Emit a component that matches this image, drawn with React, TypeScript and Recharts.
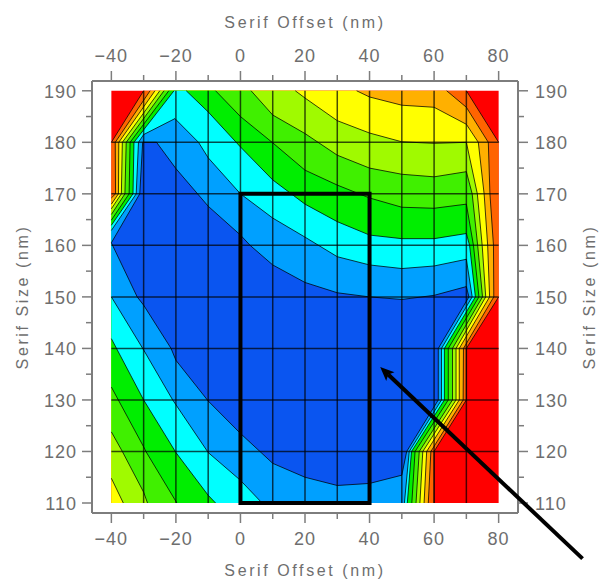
import React from "react";
import {
  ComposedChart,
  Line,
  ReferenceArea,
  ReferenceLine,
  XAxis,
  YAxis,
} from "recharts";

type Pt = [number, number];

const X_TICKS = [-40, -30, -20, -10, 0, 10, 20, 30, 40, 50, 60, 70, 80];
const Y_TICKS = [110, 115, 120, 125, 130, 135, 140, 145, 150, 155, 160, 165, 170, 175, 180, 185, 190];
const X_GRID = [-30, -20, -10, 0, 10, 20, 30, 40, 50, 60, 70];
const Y_GRID = [120, 130, 140, 150, 160, 170, 180];
const X_LABEL = "Serif Offset (nm)";
const Y_LABEL = "Serif Size (nm)";

// each region is "everything below this contour level", painted from high to low
const region10: Pt[] = [[-40, 110], [-40, 190], [80, 190], [80, 110]];
const region9: Pt[] = [[-40, 110], [-40, 180], [-30, 190], [70, 190], [80, 180], [80, 150], [70, 140], [70, 130], [60, 120], [60, 110]];
const region8: Pt[] = [[-40, 110], [-40, 169.2], [-38.7, 170], [-38.8, 180], [-28, 190], [63.9, 190], [70, 186.8], [76.8, 180], [77.3, 170], [78.4, 160], [78.5, 150], [69.1, 140], [69, 130], [59, 120], [58.2, 110]];
const region7: Pt[] = [[-40, 110], [-40, 168], [-37.8, 170], [-37.7, 180], [-26.5, 190], [36, 190], [40, 188.8], [50, 187.2], [60, 186.8], [70, 183.5], [73.7, 180], [75.5, 170], [76.6, 160], [77.2, 150], [67.8, 140], [67.8, 130], [57.7, 120], [56.9, 110]];
const region6: Pt[] = [[-36.3, 110], [-40, 114.8], [-40, 167.1], [-36.9, 170], [-36.6, 180], [-25, 190], [17, 190], [20, 188.6], [30, 184.2], [40, 181.8], [50, 180.1], [60, 179.8], [70, 180], [73.4, 170], [74.9, 160], [76, 150], [66.8, 140], [66.8, 130], [56.5, 120], [55.6, 110]];
const region5: Pt[] = [[-28.8, 110], [-30, 112.1], [-36.6, 120], [-40, 123.8], [-40, 166], [-35.8, 170], [-35.4, 180], [-23.7, 190], [3.3, 190], [10, 185.3], [20, 181.7], [30, 177.5], [40, 175], [50, 173.8], [60, 173.3], [70, 174.3], [71.8, 170], [73.5, 160], [75, 150], [65.7, 140], [65.7, 130], [55.4, 120], [54.4, 110]];
const region4: Pt[] = [[-19.7, 110], [-29.3, 120], [-30, 120.9], [-40, 132.5], [-40, 164.9], [-34.5, 170], [-34.2, 180], [-22.2, 190], [-7.7, 190], [0, 185], [10, 179.9], [20, 174.6], [30, 171.7], [40, 169.2], [50, 167.4], [60, 167.2], [70, 168], [72.2, 160], [73.9, 150], [64.4, 140], [64.4, 130], [54.1, 120], [53.1, 110]];
const region3: Pt[] = [[-7.7, 110], [-10, 111.5], [-20, 119.8], [-30, 130], [-40, 141.9], [-40, 163.9], [-33.3, 170], [-33, 180], [-20.6, 190], [-16.8, 190], [-10, 185.9], [0, 179.1], [10, 172.7], [20, 168], [30, 164.6], [40, 162], [50, 161.3], [60, 161.3], [70, 162.3], [71, 160], [72.8, 150], [63.2, 140], [63.2, 130], [53, 120], [51.7, 110]];
const region2: Pt[] = [[6.7, 110], [0, 114.4], [-10, 119.8], [-21, 130], [-30, 139.7], [-40, 150], [-40, 162.9], [-32.3, 170], [-31.6, 180], [-30, 181.5], [-20.3, 184.6], [-13, 180], [-10, 177], [0, 170], [10, 165.3], [20, 161.6], [30, 157.8], [40, 156.2], [50, 155.5], [60, 156], [70, 157.3], [71.8, 150], [62.3, 140], [62.3, 130], [52.3, 120], [50.8, 110]];
const region1: Pt[] = [[-26, 180], [-20, 174.9], [-10, 167.6], [0, 162], [3, 160], [10, 156.2], [20, 152.8], [30, 150.8], [40, 150], [50, 149.5], [60, 150.3], [70, 152], [70.8, 150], [61.3, 140], [61.3, 130], [51.5, 120], [50, 115.4], [40, 113.8], [30, 113.4], [20, 115], [10, 117.7], [0, 123.5], [-10, 129.8], [-20, 137.7], [-21.5, 140], [-30, 148.4], [-32, 150], [-40, 160.5], [-31.2, 170], [-30.3, 180]];

const REGIONS: { pts: Pt[]; color: string }[] = [
  { pts: region10, color: "#ff0000" },
  { pts: region9, color: "#ff6400" },
  { pts: region8, color: "#ffb000" },
  { pts: region7, color: "#ffff00" },
  { pts: region6, color: "#a0fa00" },
  { pts: region5, color: "#40f000" },
  { pts: region4, color: "#00ee00" },
  { pts: region3, color: "#00ffff" },
  { pts: region2, color: "#00a0ff" },
  { pts: region1, color: "#0a55f0" },
];

const box = { x1: 0, x2: 40, y1: 110, y2: 170 };
const arrow = { tail: [106, 99.2], tip: [43.3, 136.4] };

const GREY = "#7d7d7d";
const TEXT = "#6e6e6e";
const FONT = "'Liberation Sans', Arial, sans-serif";
const ON_TOP = 3000;

const onEdge = (a: any, b: any) =>
  (a.x === b.x && (a.x === X_TICKS[0] || a.x === X_TICKS[X_TICKS.length - 1])) ||
  (a.y === b.y && (a.y === Y_TICKS[0] || a.y === Y_TICKS[Y_TICKS.length - 1]));

// Line hands every dot the whole point list, so the first dot draws the filled region
function regionDot(color: string) {
  return (p: any) => {
    if (p.index !== 0 || !p.points) return <g key={p.index} />;
    const pts = p.points;
    const outline = pts.map((q: any) => `${q.x},${q.y}`).join(" ");
    return (
      <g key={p.index}>
        <polygon points={outline} fill={color} stroke="none" />
        {pts.map((q: any, i: number) => {
          const next = pts[(i + 1) % pts.length];
          if (onEdge(q.payload, next.payload)) return null;
          return (
            <line key={i} x1={q.x} y1={q.y} x2={next.x} y2={next.y} stroke="#000" strokeOpacity={0.75} strokeWidth={1} />
          );
        })}
      </g>
    );
  };
}

function AxisTick({ x, y, payload, side }: any) {
  const v = payload.value;
  const horizontal = side === "top" || side === "bottom";
  const major = horizontal ? v % 20 === 0 : v % 10 === 0;
  const len = major ? 10 : 6;
  const common = { fill: TEXT, fontSize: 18, fontFamily: FONT, letterSpacing: 1 };
  const text = horizontal ? String(v).replace("-", "\u2212") : String(v);
  return (
    <g>
      {side === "top" && <line x1={x} x2={x} y1={y} y2={y - len} stroke={GREY} strokeWidth={1.5} />}
      {side === "bottom" && <line x1={x} x2={x} y1={y} y2={y + len} stroke={GREY} strokeWidth={1.5} />}
      {side === "left" && <line x1={x} x2={x - len} y1={y} y2={y} stroke={GREY} strokeWidth={1.5} />}
      {side === "right" && <line x1={x} x2={x + len} y1={y} y2={y} stroke={GREY} strokeWidth={1.5} />}
      {major && side === "top" && <text x={x} y={y - 19} textAnchor="middle" {...common}>{text}</text>}
      {major && side === "bottom" && <text x={x} y={y + 32} textAnchor="middle" {...common}>{text}</text>}
      {major && side === "left" && <text x={x - 15} y={y + 7} textAnchor="end" {...common}>{text}</text>}
      {major && side === "right" && <text x={x + 17} y={y + 7} textAnchor="start" {...common}>{text}</text>}
    </g>
  );
}

function ArrowShape({ x1, y1, x2, y2 }: any) {
  const dx = x2 - x1;
  const dy = y2 - y1;
  const n = Math.hypot(dx, dy);
  const ux = dx / n;
  const uy = dy / n;
  const bx = x2 - ux * 14;
  const by = y2 - uy * 14;
  const nx = x2 - ux * 11;
  const ny = y2 - uy * 11;
  return (
    <g>
      <line x1={x1} y1={y1} x2={nx} y2={ny} stroke="#000" strokeWidth={4} />
      <polygon
        points={`${x2},${y2} ${bx - uy * 6},${by + ux * 6} ${nx},${ny} ${bx + uy * 6},${by - ux * 6}`}
        fill="#000"
      />
    </g>
  );
}

const labelStyle = { fill: TEXT, fontSize: 16, fontFamily: FONT, letterSpacing: 2.6 };

export default function App() {
  return (
    <div style={{ position: "absolute", left: 0, top: 0, background: "#fff" }}>
      <ComposedChart width={600} height={580} margin={{ top: 0, right: 0, bottom: 0, left: 0 }}>
        <XAxis
          xAxisId="bottom"
          dataKey="x"
          type="number"
          orientation="bottom"
          domain={[-46, 86]}
          allowDataOverflow
          ticks={X_TICKS}
          interval={0}
          height={67}
          tickSize={0}
          tickMargin={0}
          tickLine={false}
          axisLine={{ stroke: GREY, strokeWidth: 2 }}
          tick={<AxisTick side="bottom" />}
          label={{ value: X_LABEL, position: "insideBottom", offset: 4, ...labelStyle }}
        />
        <XAxis
          xAxisId="top"
          dataKey="x"
          type="number"
          orientation="top"
          domain={[-46, 86]}
          allowDataOverflow
          ticks={X_TICKS}
          interval={0}
          height={81}
          tickSize={0}
          tickMargin={0}
          tickLine={false}
          axisLine={{ stroke: GREY, strokeWidth: 2 }}
          tick={<AxisTick side="top" />}
          label={{ value: X_LABEL, position: "insideTop", offset: 17, ...labelStyle }}
        />
        <YAxis
          yAxisId="left"
          dataKey="y"
          type="number"
          orientation="left"
          domain={[108.06, 191.9]}
          allowDataOverflow
          ticks={Y_TICKS}
          interval={0}
          width={92}
          tickSize={0}
          tickMargin={0}
          tickLine={false}
          axisLine={{ stroke: GREY, strokeWidth: 2 }}
          tick={<AxisTick side="left" />}
          label={{ value: Y_LABEL, angle: -90, position: "insideLeft", offset: 22, style: { textAnchor: "middle" }, ...labelStyle }}
        />
        <YAxis
          yAxisId="right"
          dataKey="y"
          type="number"
          orientation="right"
          domain={[108.06, 191.9]}
          allowDataOverflow
          ticks={Y_TICKS}
          interval={0}
          width={82}
          tickSize={0}
          tickMargin={0}
          tickLine={false}
          axisLine={{ stroke: GREY, strokeWidth: 2 }}
          tick={<AxisTick side="right" />}
          label={{ value: Y_LABEL, angle: -90, position: "insideRight", offset: 11, style: { textAnchor: "middle" }, ...labelStyle }}
        />
        {REGIONS.map((r, i) => (
          <Line
            key={i}
            xAxisId="bottom"
            yAxisId="left"
            data={r.pts.map(([x, y]) => ({ x, y }))}
            dataKey="y"
            stroke="none"
            dot={regionDot(r.color)}
            activeDot={false}
            isAnimationActive={false}
          />
        ))}
        {X_GRID.map((x) => (
          <ReferenceLine
            key={`gx${x}`}
            xAxisId="bottom"
            yAxisId="left"
            zIndex={ON_TOP}
            segment={[{ x, y: Y_TICKS[0] }, { x, y: Y_TICKS[Y_TICKS.length - 1] }]}
            stroke="#000"
            strokeOpacity={0.7}
            strokeWidth={1.5}
          />
        ))}
        {Y_GRID.map((y) => (
          <ReferenceLine
            key={`gy${y}`}
            xAxisId="bottom"
            yAxisId="left"
            zIndex={ON_TOP}
            segment={[{ x: X_TICKS[0], y }, { x: X_TICKS[X_TICKS.length - 1], y }]}
            stroke="#000"
            strokeOpacity={0.7}
            strokeWidth={1.5}
          />
        ))}
        <ReferenceArea
          xAxisId="bottom"
          yAxisId="left"
          zIndex={ON_TOP + 1}
          x1={box.x1}
          x2={box.x2}
          y1={box.y1}
          y2={box.y2}
          fill="none"
          stroke="#000"
          strokeWidth={4}
        />
        <ReferenceLine
          xAxisId="bottom"
          yAxisId="left"
          zIndex={ON_TOP + 2}
          ifOverflow="visible"
          segment={[{ x: arrow.tail[0], y: arrow.tail[1] }, { x: arrow.tip[0], y: arrow.tip[1] }]}
          shape={<ArrowShape />}
        />
      </ComposedChart>
    </div>
  );
}
